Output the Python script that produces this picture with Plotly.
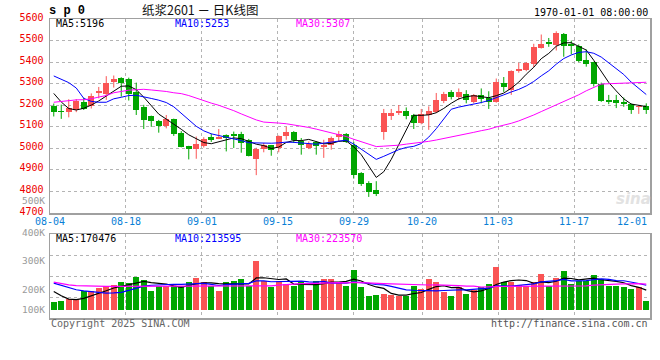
import numpy as np
import pandas as pd
import plotly.graph_objects as go

# ---------------- data ----------------
dates = ["08-04","08-05","08-06","08-07","08-08","08-11","08-12","08-13","08-14","08-15",
         "08-18","08-19","08-20","08-21","08-22","08-25","08-26","08-27","08-28","08-29",
         "09-01","09-02","09-03","09-04","09-05","09-08","09-09","09-10","09-11","09-12",
         "09-15","09-16","09-17","09-18","09-19","09-22","09-23","09-24","09-25","09-26",
         "09-29","09-30","10-09","10-10","10-13","10-14","10-15","10-16","10-17",
         "10-20","10-21","10-22","10-23","10-24","10-27","10-28","10-29","10-30","10-31",
         "11-03","11-04","11-05","11-06","11-07","11-10","11-11","11-12","11-13","11-14",
         "11-17","11-18","11-19","11-20","11-21","11-24","11-25","11-26","11-27","11-28",
         "12-01"]

opens  = [5197,5175,5170,5180,5215,5197,5256,5250,5310,5325,
          5322,5262,5194,5150,5128,5106,5136,5073,5011,4998,
          5013,5053,5045,5062,5068,5067,5040,4950,4995,5014,
          5003,5056,5077,5035,5003,5028,5007,5018,5053,5066,
          5018,4887,4838,4805,5078,5151,5163,5175,5155,
          5118,5156,5170,5222,5262,5237,5251,5217,5247,5232,
          5217,5305,5270,5360,5362,5393,5466,5494,5480,5531,
          5485,5474,5408,5400,5297,5225,5224,5213,5206,5190,
          5198]
highs  = [5208,5203,5228,5229,5235,5255,5285,5335,5338,5330,
          5328,5305,5202,5152,5132,5155,5138,5080,5012,5055,
          5052,5068,5090,5065,5078,5077,5044,5003,5025,5016,
          5060,5101,5080,5048,5032,5032,5040,5055,5081,5071,
          5030,4890,4848,4848,5183,5183,5201,5190,5160,
          5183,5195,5257,5262,5270,5278,5270,5252,5278,5265,
          5324,5331,5362,5397,5400,5485,5528,5512,5543,5535,
          5500,5482,5459,5402,5305,5248,5248,5236,5208,5198,
          5209]
lows   = [5148,5137,5144,5168,5178,5185,5232,5225,5282,5240,
          5222,5155,5090,5100,5073,5093,5058,5005,4949,4952,
          5004,5030,5043,4986,5002,4980,4963,4876,4982,4966,
          4982,5040,5025,4971,4997,4971,4956,4994,5032,5025,
          4860,4826,4775,4779,5040,5132,5155,5135,5090,
          5112,5086,5164,5210,5227,5224,5209,5209,5209,5183,
          5212,5262,5248,5351,5358,5377,5463,5471,5454,5425,
          5436,5400,5379,5287,5216,5205,5187,5193,5160,5160,
          5160]
closes = [5171,5167,5189,5218,5185,5245,5264,5305,5322,5305,
          5252,5178,5132,5128,5105,5136,5067,5008,4999,5020,
          5042,5039,5053,5050,5059,5025,4967,4997,5017,4992,
          5058,5074,5041,5015,5021,5013,5017,5047,5066,5031,
          4876,4835,4798,4787,5163,5163,5175,5151,5117,
          5160,5175,5224,5251,5237,5262,5225,5247,5228,5214,
          5308,5286,5359,5370,5397,5469,5485,5482,5535,5475,
          5474,5406,5390,5298,5221,5213,5210,5206,5178,5196,
          5180]
volumes = [67000,76000,98000,98000,165000,165000,191000,207000,216000,236000,
           230000,283000,258000,165000,202000,202000,202000,202000,241000,275000,
           241000,202000,165000,236000,244000,266000,202000,418000,244000,193000,
           244000,224000,202000,236000,174000,250000,266000,266000,236000,202000,
           342000,193000,118000,132000,140000,132000,118000,118000,202000,
           182000,266000,236000,151000,123000,193000,140000,174000,193000,224000,
           362000,241000,236000,216000,202000,241000,308000,202000,275000,334000,
           224000,250000,250000,300000,266000,202000,202000,193000,182000,193000,
           81000]

# moving-average values before enough history is visible
ma5_head  = [5255, 5215, 5185, 5178]
ma10_head = [5336, 5322, 5305, 5280, 5232, 5218, 5214, 5214, 5230]
ma30_head = [5214, 5218, 5222, 5225, 5226, 5230, 5238, 5245, 5258, 5264,
             5270, 5272, 5274, 5271, 5268, 5264, 5258, 5254, 5245, 5233,
             5220, 5210, 5200, 5189, 5175, 5160, 5145, 5132, 5122]
vma5_head  = [160000, 123000, 95000, 90000]
vma10_head = [230000, 210000, 193000, 174000, 165000, 157000, 150000, 146000, 148000]
vma30_head = [238000, 225000, 215000, 208000, 205000, 203000, 202000, 202000, 202000, 202000,
              203000, 203000, 203000, 203000, 204000, 204000, 204000, 204000, 205000, 205000,
              205000, 205000, 205000, 205000, 206000, 206000, 206000, 206000, 206000]

label_dates = ["08-04","08-18","09-01","09-15","09-29","10-20","11-03","11-17","12-01"]
price_ticks = [4700,4800,4900,5000,5100,5200,5300,5400,5500,5600]
vol_labels = ["500K","400K","300K","200K","100K"]

title_text = "纸浆2601 － 日K线图"
code_text = "s p 0"
time_text = "1970-01-01 08:00:00"
ma_price_labels = ["MA5:5196", "MA10:5253", "MA30:5307"]
ma_vol_labels = ["MA5:170476", "MA10:213595", "MA30:223570"]
footer_left = "Copyright 2025 SINA.COM"
footer_right = "http://finance.sina.com.cn"

# ---------------- derived ----------------
n = len(dates)
idx = np.arange(n)
o = np.array(opens, float); h = np.array(highs, float)
l = np.array(lows, float); c = np.array(closes, float)
v = np.array(volumes, float)

def ma(series, w, head):
    s = pd.Series(series).rolling(w).mean()
    s.iloc[:len(head)] = head
    return s.values

ma5, ma10, ma30 = ma(c, 5, ma5_head), ma(c, 10, ma10_head), ma(c, 30, ma30_head)
vma5, vma10, vma30 = ma(v, 5, vma5_head), ma(v, 10, vma10_head), ma(v, 30, vma30_head)

RED = "#fa5454"
GREEN = "#00a600"
up = c >= o
colors = np.where(up, RED, GREEN)

# ---------------- geometry (pixels) ----------------
W, H = 660, 360
L, R = 50, 650
TOP, MAIN_BOT, VOL_TOP, VOL_BOT = 19.0, 213.3, 234.3, 318.3
def py(yp):
    return (VOL_BOT - yp) / (VOL_BOT - TOP)
def pxf(xp):
    return (xp - L) / (R - L)

MONO = "DejaVu Sans Mono"

fig = go.Figure()

# wicks
for col, mask in ((RED, up), (GREEN, ~up)):
    xs, ys = [], []
    for i in idx[mask]:
        xs += [i, i, None]
        ys += [l[i], h[i], None]
    fig.add_trace(go.Scatter(x=xs, y=ys, mode="lines", line=dict(color=col, width=1),
                             xaxis="x", yaxis="y", hoverinfo="skip"))
# bodies
body = np.maximum(np.abs(c - o), 2.5)
fig.add_trace(go.Bar(x=idx, y=body, base=np.minimum(o, c), width=0.8,
                     marker=dict(color=colors, line=dict(width=0)),
                     xaxis="x", yaxis="y"))
# price MAs
for arr, col in ((ma5, "#000000"), (ma10, "#0000ff"), (ma30, "#ff00ff")):
    fig.add_trace(go.Scatter(x=idx, y=arr, mode="lines", line=dict(color=col, width=1),
                             xaxis="x", yaxis="y"))
# volume bars
fig.add_trace(go.Bar(x=idx, y=v, width=0.8, marker=dict(color=colors, line=dict(width=0)),
                     xaxis="x2", yaxis="y2"))
for arr, col in ((vma5, "#000000"), (vma10, "#0000ff"), (vma30, "#ff00ff")):
    fig.add_trace(go.Scatter(x=idx, y=arr, mode="lines", line=dict(color=col, width=1.2),
                             xaxis="x2", yaxis="y2"))

# gridline positions for date labels
lab_idx = [dates.index(d) for d in label_dates]
grid_tv = [-0.5 + k * n / (n - 1) for k in lab_idx]

vlo, vhi = -64000, 642600
vgrid = list(np.linspace(vlo, vhi, 5)[1:4])

GRID = "#b4b4b4"
BORDER = "#a0a0a0"
axis_common = dict(showgrid=True, gridcolor=GRID, griddash="dot", gridwidth=1,
                   zeroline=False, showline=True, linecolor=BORDER, linewidth=1.5,
                   mirror=True, fixedrange=True, automargin=False)

fig.update_layout(
    width=W, height=H, showlegend=False, barmode="overlay", bargap=0,
    paper_bgcolor="white", plot_bgcolor="white",
    margin=dict(l=L, r=W - R, t=TOP, b=H - VOL_BOT, pad=0, autoexpand=False),
    xaxis=dict(domain=[0, 1], range=[-0.5, n - 0.5], anchor="y", tickvals=grid_tv,
               showticklabels=False, ticks="", **axis_common),
    yaxis=dict(domain=[py(MAIN_BOT), 1], range=[4700, 5600], anchor="x",
               tickvals=price_ticks, ticks="", ticklabelstandoff=3, ticklabelshift=-2,
               tickfont=dict(family=MONO, size=10, color="#ee0000"), **axis_common),
    xaxis2=dict(domain=[0, 1], range=[-0.5, n - 0.5], anchor="y2", matches="x",
                tickvals=grid_tv, showticklabels=False, ticks="", **axis_common),
    yaxis2=dict(domain=[0, py(VOL_TOP)], range=[vlo, vhi], anchor="x2",
                tickvals=vgrid, showticklabels=False, ticks="", **axis_common),
)

ann = []
def text(x, y, s, color="#000", size=10, xanchor="left", family=MONO, **kw):
    ann.append(dict(x=pxf(x), y=py(y), xref="paper", yref="paper", text=s, showarrow=False,
                    xanchor=xanchor, yanchor="middle", font=dict(family=family, size=size, color=color),
                    **kw))

# header
text(47, 11, "<b>" + code_text + "</b>", size=12, family="Liberation Mono")
text(200, 9.5, title_text, size=12.5, xanchor="center", family="Noto Sans CJK SC", color="#111")
text(650, 12, time_text, xanchor="right")
# MA labels
for s, x, col in zip(ma_price_labels, (54, 173, 294), ("#000000", "#0000ff", "#ff00ff")):
    text(x, 24, s, color=col)
for s, x, col in zip(ma_vol_labels, (54, 173, 294), ("#000000", "#0000ff", "#ff00ff")):
    text(x, 238.5, s, color=col)
# date labels
for d, tv in zip(label_dates, grid_tv):
    xp = L + (tv + 0.5) / n * (R - L)
    if d == label_dates[-1]:
        text(649, 222, d, color="#0a7fd6", xanchor="right")
    else:
        text(xp, 222, d, color="#0a7fd6", xanchor="center")
# volume axis labels
for s, yp in zip(vol_labels, (201, 233, 261, 290, 309.5)):
    text(46.5, yp, s, color="#9a9a9a", xanchor="right", size=9.5)
# footer
text(49, 323.5, footer_left, color="#666666")
text(650, 323.5, footer_right, color="#555555", xanchor="right")
# watermark
text(633, 199, "<i><b>sina</b></i>", color="#e2e2e2", size=15, xanchor="center", family="DejaVu Sans")

fig.update_layout(annotations=ann)
fig.write_html("out.html", config={"displayModeBar": False, "staticPlot": True},
               post_script="document.body.style.margin='0px';document.body.style.overflow='hidden';")
